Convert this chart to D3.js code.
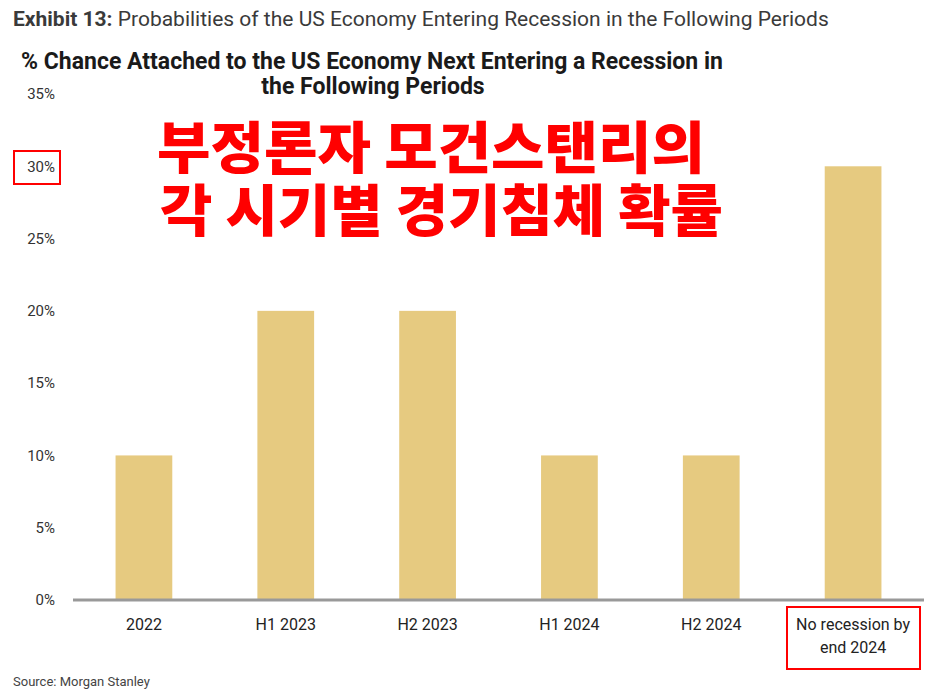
<!DOCTYPE html>
<html>
<head>
<meta charset="utf-8">
<script src="https://cdn.jsdelivr.net/npm/d3@7"></script>
<style>
  body { margin: 0; background: #fff; }
  text { font-family: "Roboto", "Liberation Sans", sans-serif; }
</style>
</head>
<body>
<div id="chart"></div>
<script>
// Data
const categories = ['2022', 'H1 2023', 'H2 2023', 'H1 2024', 'H2 2024', 'No recession by|end 2024'];
const probabilities = [10, 20, 20, 10, 10, 30];
const yTicks = [0, 5, 10, 15, 20, 25, 30, 35];

const W = 928, H = 696;
const margin = { top: 94, right: 4, bottom: 96, left: 73 };
const width = W - margin.left - margin.right;
const height = H - margin.top - margin.bottom;

const svg = d3.select('#chart')
  .append('svg')
  .attr('width', W)
  .attr('height', H);

// Header
svg.append('text')
  .attr('x', 13).attr('y', 26)
  .style('font-size', '21px')
  .attr('fill', '#3a3a3a')
  .html('<tspan font-weight="bold">Exhibit 13:</tspan> Probabilities of the US Economy Entering Recession in the Following Periods');

svg.append('text')
  .attr('x', 372).attr('y', 69)
  .attr('text-anchor', 'middle')
  .style('font-size', '23px')
  .style('font-weight', 'bold')
  .attr('fill', '#1a1a1a')
  .text('% Chance Attached to the US Economy Next Entering a Recession in');

svg.append('text')
  .attr('x', 373).attr('y', 94)
  .attr('text-anchor', 'middle')
  .style('font-size', '23px')
  .style('font-weight', 'bold')
  .attr('fill', '#1a1a1a')
  .text('the Following Periods');

const g = svg.append('g')
  .attr('transform', `translate(${margin.left},${margin.top})`);

// Scales
const x = d3.scaleBand()
  .domain(categories)
  .range([0, width])
  .paddingInner(0.6)
  .paddingOuter(0.3);

const y = d3.scaleLinear()
  .domain([0, 35])
  .range([height, 0]);

// Y-axis labels
const yAxis = g.append('g')
  .call(d3.axisLeft(y).tickValues(yTicks).tickFormat(d => d + '%').tickSize(0).tickPadding(18));
yAxis.select('.domain').remove();
yAxis.selectAll('text')
  .style('font-size', '15px')
  .style('font-family', '"Roboto", sans-serif')
  .attr('fill', '#333');

// Bars
g.selectAll('.bar')
  .data(categories)
  .enter()
  .append('rect')
  .attr('class', 'bar')
  .attr('x', d => x(d))
  .attr('width', x.bandwidth())
  .attr('y', (d, i) => y(probabilities[i]))
  .attr('height', (d, i) => y(0) - y(probabilities[i]))
  .attr('fill', '#e6ca80');

// X-axis line
g.append('line')
  .attr('x1', 0).attr('x2', width)
  .attr('y1', y(0)).attr('y2', y(0))
  .attr('stroke', '#999')
  .attr('stroke-width', 3);

// Category labels
const labels = g.selectAll('.cat')
  .data(categories)
  .enter()
  .append('text')
  .attr('class', 'cat')
  .attr('x', d => x(d) + x.bandwidth() / 2)
  .attr('y', y(0) + 30)
  .attr('text-anchor', 'middle')
  .style('font-size', '16px')
  .attr('fill', '#222');
labels.each(function(d) {
  const parts = d.split('|');
  const t = d3.select(this);
  parts.forEach((p, i) => {
    t.append('tspan')
      .attr('x', x(d) + x.bandwidth() / 2)
      .attr('dy', i === 0 ? 0 : 23)
      .text(p);
  });
});

// Source
svg.append('text')
  .attr('x', 13).attr('y', 686)
  .style('font-size', '13px')
  .attr('fill', '#444')
  .text('Source: Morgan Stanley');

// Red Korean overlay text
const red = '#ff0000';
svg.append('text')
  .attr('x', 157).attr('y', 168)
  .attr('textLength', 548)
  .attr('lengthAdjust', 'spacingAndGlyphs')
  .style('font-family', '"Noto Sans CJK KR", sans-serif')
  .style('font-size', '56px')
  .style('font-weight', '900')
  .attr('fill', red)
  .text('부정론자 모건스탠리의');

svg.append('text')
  .attr('x', 160).attr('y', 231)
  .attr('textLength', 563)
  .attr('lengthAdjust', 'spacingAndGlyphs')
  .style('font-family', '"Noto Sans CJK KR", sans-serif')
  .style('font-size', '56px')
  .style('font-weight', '900')
  .attr('fill', red)
  .text('각 시기별 경기침체 확률');

// Red highlight boxes
svg.append('rect')
  .attr('x', 14).attr('y', 151).attr('width', 46).attr('height', 33)
  .attr('fill', 'none').attr('stroke', red).attr('stroke-width', 2);

svg.append('rect')
  .attr('x', 787).attr('y', 607).attr('width', 133).attr('height', 62)
  .attr('fill', 'none').attr('stroke', red).attr('stroke-width', 2);
</script>
</body>
</html>
